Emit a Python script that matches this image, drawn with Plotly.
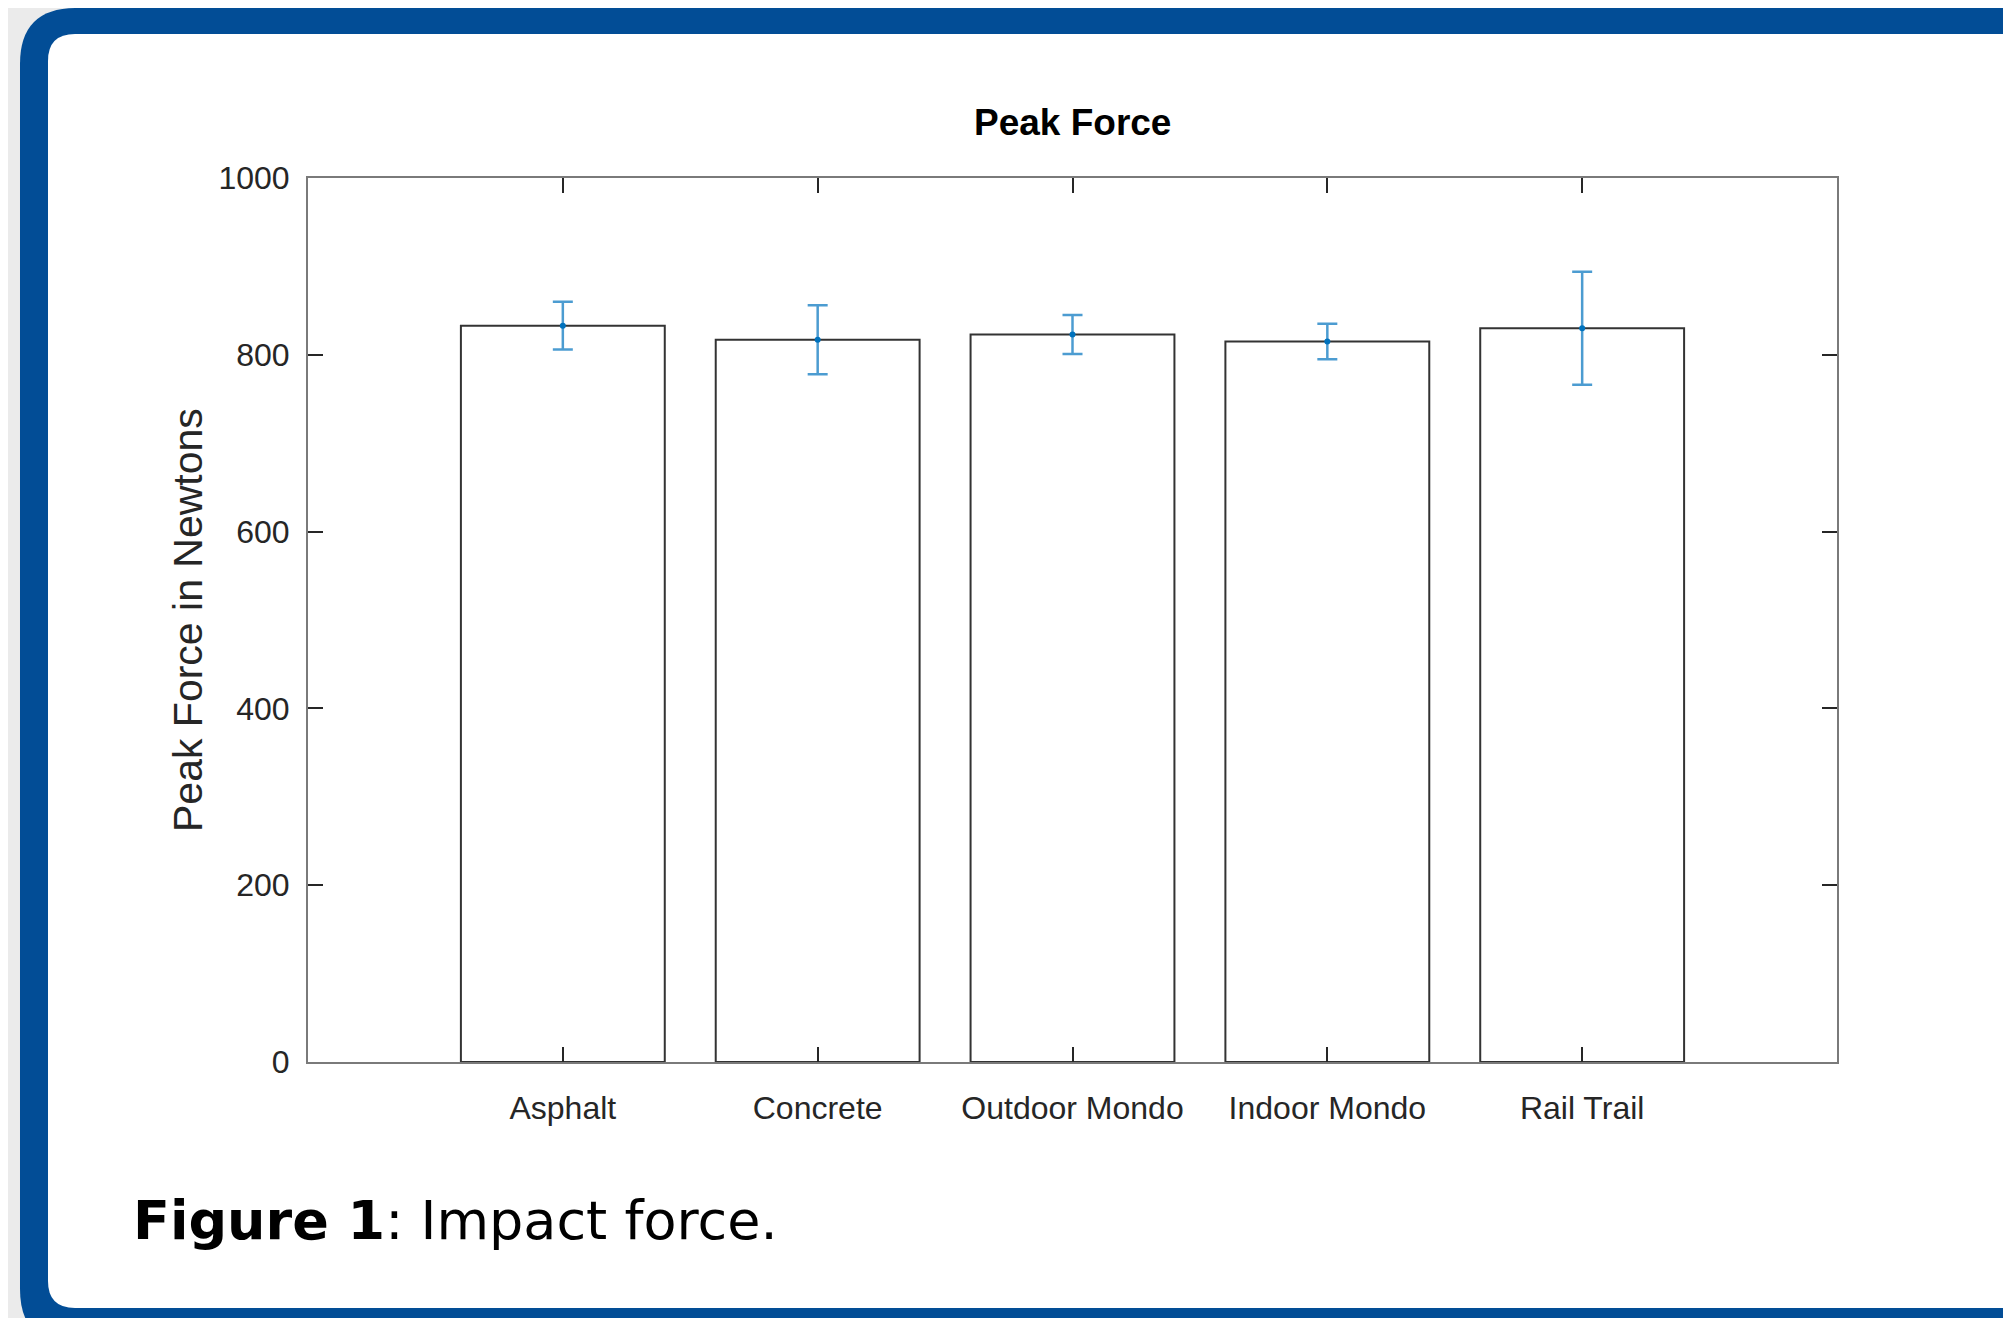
import plotly.graph_objects as go

# ---- data ----
categories = ["Asphalt", "Concrete", "Outdoor Mondo", "Indoor Mondo", "Rail Trail"]
peak_force = [833, 817, 823, 815, 830]
force_err = [27, 39, 22, 20, 64]
y_ticks = [0, 200, 400, 600, 800, 1000]
y_tick_labels = ["0", "200", "400", "600", "800", "1000"]

# ---- layout geometry (page pixels) ----
W, H = 2011, 1318
OFF = 8  # default body margin of the page
L, R, T, B = 308, 1837, 178, 1062


def px(x):
    return (x - L) / (R - L)


def py(y):
    return (B - y) / (B - T)


def rounded_path(x0, y0, x1, y1, r):
    pts = [
        ("M", x0 + r, y0),
        ("L", x1 - r, y0),
        ("Q", x1, y0, x1, y0 + r),
        ("L", x1, y1 - r),
        ("Q", x1, y1, x1 - r, y1),
        ("L", x0 + r, y1),
        ("Q", x0, y1, x0, y1 - r),
        ("L", x0, y0 + r),
        ("Q", x0, y0, x0 + r, y0),
    ]
    s = ""
    for p in pts:
        cmd = p[0]
        coords = p[1:]
        parts = []
        for i in range(0, len(coords), 2):
            parts.append(f"{px(coords[i]):.5f},{py(coords[i + 1]):.5f}")
        s += cmd + " " + " ".join(parts) + " "
    return s + "Z"


fig = go.Figure()

fig.add_trace(go.Bar(
    x=categories,
    y=peak_force,
    width=0.8,
    marker=dict(color="white", line=dict(color="#333333", width=2)),
    showlegend=False,
    hoverinfo="skip",
))

fig.add_trace(go.Scatter(
    x=categories,
    y=peak_force,
    mode="markers",
    marker=dict(color="#0072BD", size=6),
    error_y=dict(type="data", array=force_err, visible=True,
                 color="rgba(0,114,189,0.7)", thickness=2.5, width=10),
    showlegend=False,
    hoverinfo="skip",
))

tick_font = dict(family="Liberation Sans, Arial, sans-serif", size=32, color="#262626")

fig.update_xaxes(
    type="category",
    categoryorder="array",
    categoryarray=categories,
    range=[-1, 5],
    showline=True, linecolor="#7a7a7a", linewidth=2, mirror="ticks",
    ticks="inside", ticklen=15, tickwidth=1.5, tickcolor="#262626",
    tickfont=tick_font,
    ticklabelstandoff=17,
    showgrid=False, zeroline=False,
)
fig.update_yaxes(
    range=[0, 1000],
    tickvals=y_ticks,
    ticktext=y_tick_labels,
    showline=True, linecolor="#7a7a7a", linewidth=2, mirror="ticks",
    ticks="inside", ticklen=15, tickwidth=1.5, tickcolor="#262626",
    tickfont=tick_font,
    ticklabelstandoff=10,
    showgrid=False, zeroline=False,
)

shapes = [
    dict(type="path", xref="paper", yref="paper", layer="below",
         path=rounded_path(20, 8, 2070, 1345, 56),
         fillcolor="#024d96", line=dict(width=0)),
    dict(type="path", xref="paper", yref="paper", layer="below",
         path=rounded_path(48, 34, 2035, 1308, 27),
         fillcolor="white", line=dict(width=0)),
]

annotations = [
    dict(text="<b>Peak Force</b>", x=px(1072), y=py(122), xref="paper", yref="paper",
         xanchor="center", yanchor="middle", showarrow=False,
         font=dict(family="Liberation Sans, Arial, sans-serif", size=37, color="black")),
    dict(text="Peak Force in Newtons", x=px(188), y=py(620), xref="paper", yref="paper",
         xanchor="center", yanchor="middle", showarrow=False, textangle=-90,
         font=dict(family="Liberation Sans, Arial, sans-serif", size=41, color="#262626")),
    dict(text="<b>Figure 1</b>: Impact force.", x=px(131), y=py(1220), xref="paper", yref="paper",
         xanchor="left", yanchor="middle", showarrow=False,
         font=dict(family="DejaVu Sans, Verdana, sans-serif", size=54, color="black")),
]

fig.update_layout(
    width=W - OFF, height=H - OFF,
    margin=dict(l=L - OFF, r=W - R, t=T - OFF, b=H - B, pad=0),
    paper_bgcolor="#ebebeb",
    plot_bgcolor="rgba(0,0,0,0)",
    shapes=shapes,
    annotations=annotations,
    bargap=0.2,
)

fig.write_html("out.html")
